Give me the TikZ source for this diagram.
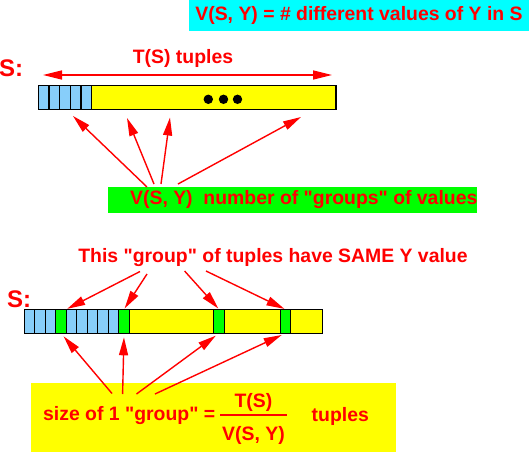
\documentclass[tikz,border=0pt]{standalone}
\usepackage{fontspec}
\setmainfont{Liberation Sans}[Ligatures=TeXOff]
\usetikzlibrary{arrows.meta, positioning}
\definecolor{lblred}{RGB}{255,0,0}
\definecolor{cellblue}{RGB}{135,206,250}
\definecolor{cellyellow}{RGB}{255,255,0}
\definecolor{cellgreen}{RGB}{0,255,0}
\definecolor{boxcyan}{RGB}{0,255,255}

\begin{document}
\begin{tikzpicture}[x=1pt, y=-1pt,
    lbl/.style={text=lblred, font=\fontsize{19.4}{23}\selectfont\bfseries, inner sep=0},
    rel/.style={text=lblred, font=\fontsize{24}{28}\selectfont\bfseries, inner sep=0},
    cell/.style={draw, line width=1.3, minimum height=24, inner sep=0, outer sep=0, anchor=north west},
    ptr/.style={draw=lblred, line width=1.4, -{Triangle[length=18pt,width=9pt]}}]
  \useasboundingbox (0,0) rectangle (531,451);

  % definition of V(S, Y)
  \node[lbl, fill=boxcyan, minimum width=340, minimum height=30.5]
    (vdef) at (359,15.25) {V(S, Y) = \# different values of Y in S};

  % relation S, one value per tuple
  \node[rel] (rel1) at (11,68) {S:};
  \node[lbl] (tlen) at (183,58) {T(S) tuples};
  \coordinate (tl) at (43,75);
  \coordinate (tr) at (332,75);
  \draw[draw=lblred, line width=1.4, {Triangle[length=19pt,width=9pt]}-{Triangle[length=19pt,width=9pt]}] (tl) -- (tr);
  \foreach \i in {0,...,4}
    \node[cell, fill=cellblue, minimum width=10.7] (t\i) at (38.3+10.7*\i,85.3) {};
  \node[cell, fill=cellyellow, minimum width=244.3] (trest) at (91.8,85.3) {};
  \fill (208.3,99.3) circle (4.7pt) (223.5,99.3) circle (4.7pt) (237.5,99.3) circle (4.7pt);

  \fill[cellgreen] (108,187) rectangle (477,213);
  \node[lbl, anchor=west] (vnum) at (130,200)
    {V(S, Y)\ \ number of "groups" of values};
  \foreach \n/\s/\h in {1/{147,187}/{73,116}, 2/{154,184}/{127,118},
                        3/{161,184}/{170,117.5}, 4/{178,184}/{301,117}} {
    \coordinate (vs\n) at (\s);
    \coordinate (vh\n) at (\h);
    \draw[ptr] (vs\n) -- (vh\n);
  }

  % relation S, grouped on Y
  \node[lbl] (same) at (273,258) {This "group" of tuples have SAME Y value};
  \node[rel] (rel2) at (19,299) {S:};
  \foreach \i/\c in {0/cellblue, 1/cellblue, 2/cellblue, 3/cellgreen, 4/cellblue,
                     5/cellblue, 6/cellblue, 7/cellblue, 8/cellblue, 9/cellgreen}
    \node[cell, fill=\c, minimum width=10.5] (b\i) at (24.3+10.5*\i,309.3) {};
  \node[cell, fill=cellyellow, minimum width=84.4] (by1) at (129.3,309.3) {};
  \node[cell, fill=cellgreen, minimum width=10.6] (bg1) at (213.7,309.3) {};
  \node[cell, fill=cellyellow, minimum width=56] (by2) at (224.3,309.3) {};
  \node[cell, fill=cellgreen, minimum width=10] (bg2) at (280.3,309.3) {};
  \node[cell, fill=cellyellow, minimum width=32] (by3) at (290.3,309.3) {};

  \coordinate (gs1) at (140,271.5);
  \coordinate (gs2) at (147,274);
  \coordinate (gs3) at (184.6,271);
  \coordinate (gs4) at (206,271);
  \draw[ptr, shorten >=1] (gs1) -- (b3.north east);
  \draw[ptr, shorten >=1] (gs2) -- (b9.north);
  \draw[ptr, shorten >=1] (gs3) -- (bg1.north);
  \draw[ptr, shorten >=1] (gs4) -- (bg2.north);

  % size of a group
  \fill[cellyellow] (31,383) rectangle (396,455);
  \node[lbl, anchor=west] (gsize) at (43,416) {size of 1 "group" =};
  \node[lbl] (num) at (253.5,402.5) {T(S)};
  \node[lbl] (den) at (253.5,435) {V(S, Y)};
  \draw[draw=lblred, line width=1.5] (220,415) -- (287,415);
  \node[lbl, anchor=west] (tup) at (311.5,416) {tuples};

  \coordinate (ss1) at (112,393.5);
  \coordinate (ss2) at (122.6,394);
  \coordinate (ss3) at (136.5,394);
  \coordinate (ss4) at (155,394);
  \draw[ptr, shorten >=4] (ss1) -- (b3.south);
  \draw[ptr, shorten >=4] (ss2) -- (b9.south);
  \draw[ptr, shorten >=4] (ss3) -- (bg1.south);
  \draw[ptr, shorten >=4] (ss4) -- (bg2.south);
\end{tikzpicture}
\end{document}
